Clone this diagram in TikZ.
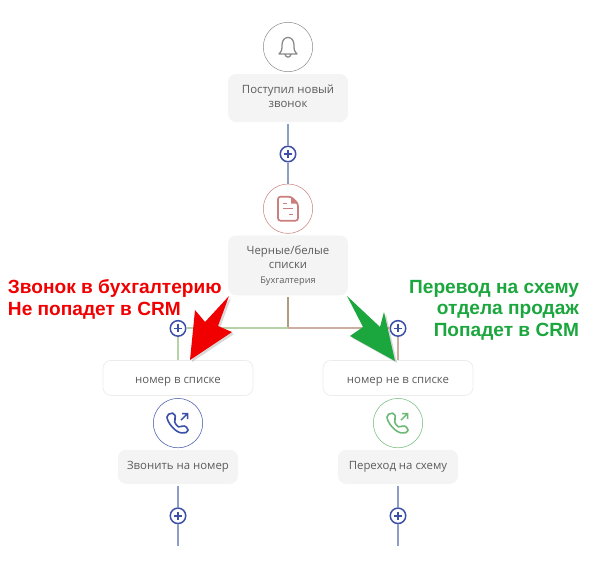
\documentclass[tikz,border=0pt]{standalone}
\usepackage{fontspec}
\setmainfont{Open Sans}
\newfontfamily\notefont{Liberation Sans}
\usetikzlibrary{arrows.meta,positioning,shadows}
\definecolor{flowcard}{HTML}{F4F4F4}
\definecolor{flowborder}{HTML}{ECECEC}
\definecolor{flowtext}{HTML}{5C5C5C}
\definecolor{flowline}{HTML}{8C9DC6}
\definecolor{flowplus}{HTML}{3B50A6}
\definecolor{flowgreen}{HTML}{B7D2A6}
\definecolor{flowbrown}{HTML}{CFAEA2}
\definecolor{flowstem}{HTML}{B09C80}
\definecolor{iconred}{HTML}{CB7F7C}
\definecolor{icongreen}{HTML}{6DB978}
\definecolor{icongray}{HTML}{8A8A8A}
\definecolor{noteredcol}{HTML}{F00000}
\definecolor{notegreencol}{HTML}{1BA63E}
\tikzset{
  x=1pt,y=-1pt,
  iconcircle/.style={
    circle,
    draw=#1,
    line width=0.5pt,
    fill=white,
    minimum size=49.4pt,
    inner sep=0pt,
    outer sep=0pt
  },
  textdrop/.style={execute at begin node={\rule{0pt}{#1}}},
  textlift/.style={execute at end node={\rule[-#1]{0pt}{0pt}}},
  card/.style={
    rounded corners=8pt,
    fill=flowcard,
    minimum width=120pt,
    minimum height=#1,
    align=center,
    inner sep=0pt,
    outer sep=0pt,
    text=flowtext,
    font=\fontsize{11.4}{14}\selectfont
  },
  card/.default=34pt,
  branch/.style={
    rounded corners=8pt,
    draw=flowborder,
    line width=0.7pt,
    fill=white,
    minimum width=150pt,
    minimum height=35pt,
    align=center,
    inner sep=0pt,
    outer sep=0pt,
    text=flowtext,
    textdrop=13.5pt,
    font=\fontsize{11.4}{14}\selectfont
  },
  plusnode/.style={
    circle,
    draw=flowplus,
    line width=1.5pt,
    fill=white,
    minimum size=15.5pt,
    inner sep=0pt,
    outer sep=0.75pt,
    path picture={
      \draw[flowplus,line width=1.6pt]
        (path picture bounding box.center) +(-4,0) -- +(4,0)
        (path picture bounding box.center) +(0,-4) -- +(0,4);
    }
  },
  link/.style={line width=2pt,draw=#1},
  link/.default=flowline,
  noteshape/.style={fill=#1,drop shadow={shadow xshift=2pt,shadow yshift=-2pt,opacity=0.3}},
  note/.style={inner sep=0pt,outer sep=0pt,font=\notefont\bfseries\fontsize{19.1}{21.7}\selectfont},
  bellicon/.pic={
    \draw[icongray,line width=1.3pt,line join=round]
      (-9,7) .. controls (-6,4) and (-6,2) .. (-6,-2)
      .. controls (-6,-12) and (6,-12) .. (6,-2)
      .. controls (6,2) and (6,4) .. (9,7) -- cycle
      (-3,7.5) .. controls (-2,11) and (2,11) .. (3,7.5);
  },
  sheeticon/.pic={
    \draw[iconred,line width=1.7pt,rounded corners=2.5pt,line join=round]
      (3,-12) -- (-10,-12) -- (-10,12) -- (10,12) -- (10,-5) -- cycle;
    \fill[iconred] (3,-12) -- (3,-5) -- (10,-5) -- cycle;
    \draw[iconred,line width=1.5pt] (-5,-5) -- (-1,-5) (-5,0) -- (5,0) (1,6) -- (5,6);
  },
  phoneicon/.pic={
    \draw[#1,line width=1.6pt,rounded corners=1.8pt,line join=round]
      (-7,-10) -- (-11,-8) .. controls (-11,-1) and (-3,9) .. (5,10)
      -- (10,9) -- (10,5) -- (5,2) -- (2,4.5)
      .. controls (-1,3) and (-3,0) .. (-4,-3) -- (-2,-5) -- (-4,-10) -- cycle;
    \draw[#1,line width=1.5pt] (3,-3) -- (9,-9) (4,-9.5) -- (9.5,-9.5) -- (9.5,-4);
  }
}
\begin{document}
\begin{tikzpicture}[node distance=2pt]
  \useasboundingbox (0,0) rectangle (596,578);
  \node[iconcircle=icongray] (bell) at (288,47) {};
  \node[card=48pt, textlift=4.5pt, below=2.3pt of bell] (incoming) {Поступил новый\\звонок};
  \node[plusnode, below=23.5pt of incoming] (plustop) {};
  \node[iconcircle=iconred, below=21.5pt of plustop] (sheet) {};
  \node[card=60pt, textdrop=20pt, below=2pt of sheet] (lists) {Черные/белые\\списки\\[1pt]{\fontsize{9.2}{12}\selectfont Бухгалтерия}};
  \coordinate[below=33pt of lists] (fork);

  \node[plusnode, left=101.5pt of fork] (plusleft) {};
  \node[branch, below=23.5pt of plusleft] (listed) {номер в списке};
  \node[iconcircle=flowplus, below=3pt of listed] (callcirc) {};
  \node[card, below=2pt of callcirc] (call) {Звонить на номер};
  \node[plusnode, below=23.5pt of call] (pluscall) {};
  \coordinate[below=21.5pt of pluscall] (endcall);

  \node[plusnode, right=101.5pt of fork] (plusright) {};
  \node[branch, below=23.5pt of plusright] (unlisted) {номер не в списке};
  \node[iconcircle=icongreen, below=3pt of unlisted] (schemecirc) {};
  \node[card, below=2pt of schemecirc] (scheme) {Переход на схему};
  \node[plusnode, below=23.5pt of scheme] (plusscheme) {};
  \coordinate[below=21.5pt of plusscheme] (endscheme);

  \pic at (bell) {bellicon};
  \pic at (sheet) {sheeticon};
  \pic at (callcirc) {phoneicon=flowplus};
  \pic at (schemecirc) {phoneicon=icongreen};

  \draw[link,shorten <=2pt] (incoming) -- (plustop);
  \draw[link] (plustop) -- (sheet);
  \draw[link=flowstem,shorten <=2pt] (lists) -- (fork);
  \draw[link=flowgreen] (fork) -- (plusleft);
  \draw[link=flowbrown] (fork) -- (plusright);
  \draw[link=flowgreen] (plusleft) -- (listed);
  \draw[link=flowbrown] (plusright) -- (unlisted);
  \draw[link,shorten <=2pt] (call) -- (pluscall);
  \draw[link] (pluscall) -- (endcall);
  \draw[link,shorten <=2pt] (scheme) -- (plusscheme);
  \draw[link] (plusscheme) -- (endscheme);

  \path[noteshape=noteredcol] (229,296) -- (205,322) -- (195,310) -- (190,360) -- (232,332) -- (218,326) -- cycle;
  \path[noteshape=notegreencol] (347,296) -- (363,327) -- (350,336) -- (395,361) -- (384,312) -- (380,327) -- cycle;

  \node[note, text=noteredcol, align=left, anchor=north west] (notered) at (8,279.5) {Звонок в бухгалтерию\\Не попадет в CRM};
  \node[note, text=notegreencol, align=right, anchor=north east] (notegreen) at (579,280) {Перевод на схему\\отдела продаж\\Попадет в CRM};
\end{tikzpicture}
\end{document}
